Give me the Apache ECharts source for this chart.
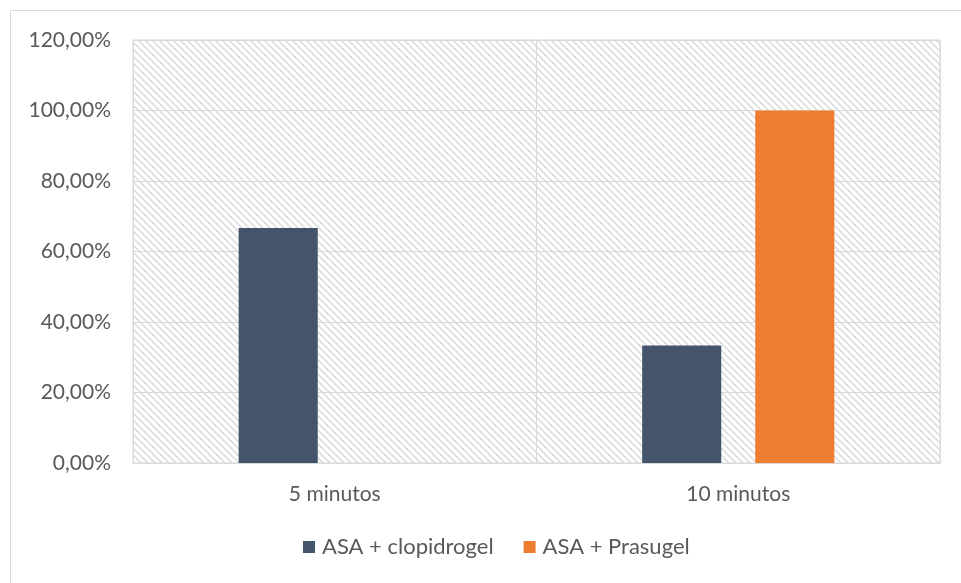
<!DOCTYPE html>
<html>
<head>
<meta charset="utf-8">
<script src="https://cdn.jsdelivr.net/npm/echarts@6/dist/echarts.min.js"></script>
<style>
  html, body { margin: 0; padding: 0; background: #fff; }
  #chart { width: 961px; height: 583px; }
</style>
</head>
<body>
<div id="chart"></div>
<script>
// Share of patients per time point
const categories = ['5 minutos', '10 minutos'];
const clopidogrel = [0.6667, 0.3333];
const prasugel = [0, 1.0];
const seriesNames = ['ASA + clopidrogel', 'ASA + Prasugel'];
const yTicks = [0, 0.2, 0.4, 0.6, 0.8, 1.0, 1.2];

const FONT = 'Lato';
const TEXT = '#595959';
const GRID = '#d9d9d9';

// Diagonal hatch tile for the plot background
function hatchTile() {
  const s = 7;
  const c = document.createElement('canvas');
  c.width = s; c.height = s;
  const g = c.getContext('2d');
  g.fillStyle = '#ffffff';
  g.fillRect(0, 0, s, s);
  g.strokeStyle = '#d9d9d9';
  g.lineWidth = 1.5;
  g.beginPath();
  g.moveTo(-1, -1); g.lineTo(s + 1, s + 1);
  g.moveTo(-1, s - 1); g.lineTo(1, s + 1);
  g.moveTo(s - 1, -1); g.lineTo(s + 1, 1);
  g.stroke();
  return c;
}

function pct(v) {
  return (v * 100).toFixed(2).replace('.', ',') + '%';
}

const chart = echarts.init(document.getElementById('chart'), null, { renderer: 'canvas' });

chart.setOption({
  animation: false,
  graphic: [{
    type: 'rect',
    shape: { x: 10.5, y: 10.5, width: 960, height: 580 },
    style: { fill: 'none', stroke: '#d9d9d9', lineWidth: 1 },
    z: -1
  }],
  grid: {
    left: 133, right: 21, top: 40, bottom: 120,
    show: true,
    backgroundColor: { image: hatchTile(), repeat: 'repeat' },
    borderColor: GRID,
    borderWidth: 1
  },
  legend: {
    bottom: 20,
    left: 298,
    itemWidth: 12, itemHeight: 12,
    itemGap: 30,
    icon: 'rect',
    textStyle: { fontFamily: FONT, fontSize: 22, color: TEXT, padding: [0, 0, 0, 2] },
    data: seriesNames
  },
  xAxis: {
    type: 'category',
    data: categories,
    axisLine: { lineStyle: { color: GRID } },
    axisTick: { show: false },
    splitLine: { show: true, lineStyle: { color: GRID } },
    axisLabel: { fontFamily: FONT, fontSize: 21, color: TEXT, margin: 21 }
  },
  yAxis: {
    type: 'value',
    min: yTicks[0],
    max: yTicks[yTicks.length - 1],
    interval: 0.2,
    axisLine: { show: false },
    axisTick: { show: false },
    splitLine: { lineStyle: { color: GRID } },
    axisLabel: { fontFamily: FONT, fontSize: 21, color: TEXT, margin: 22, formatter: pct }
  },
  series: [
    {
      name: seriesNames[0], type: 'bar', data: clopidogrel,
      barWidth: '19.6%', barGap: '43%',
      itemStyle: { color: '#44546a' }
    },
    {
      name: seriesNames[1], type: 'bar', data: prasugel,
      barWidth: '19.6%', barGap: '43%',
      itemStyle: { color: '#ed7d31' }
    }
  ]
});
</script>
</body>
</html>
